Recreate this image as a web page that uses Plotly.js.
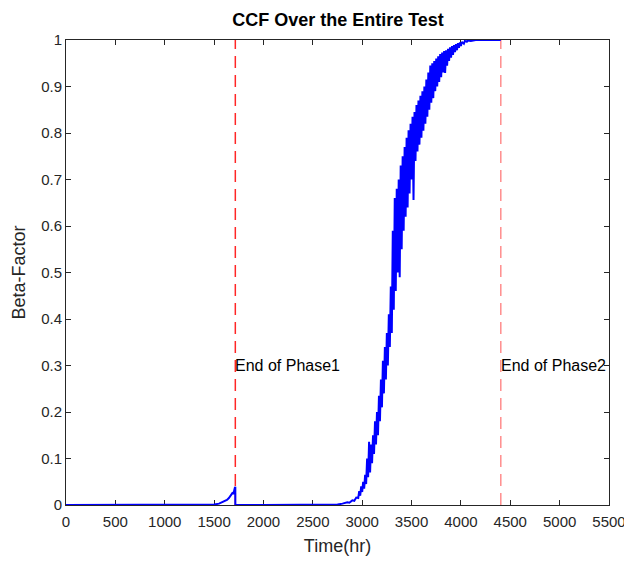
<!DOCTYPE html>
<html>
<head>
<meta charset="utf-8">
<script src="https://cdn.plot.ly/plotly-3.0.1.min.js"></script>
<style>html,body{margin:0;padding:0;background:#fff;}#chart{width:624px;height:561px;}</style>
</head>
<body>
<div id="chart"></div>
<script>
// Beta-factor time series (hours, beta)
const timeHr = [
  0, 500, 1000, 1450, 1500, 1550, 1600, 1630, 1650, 1670, 1680, 1690, 1695, 1700, 1705, 1710, 1715, 1715,
  2000, 2500, 2700, 2750, 2800, 2850, 2870, 2900, 2920, 2940, 2960, 2970, 2980, 2990,
  3000, 3010, 3020, 3030, 3040, 3050, 3060, 3070, 3080, 3090, 3100, 3110, 3120, 3130, 3140, 3150,
  3160, 3170, 3180, 3190, 3200, 3210, 3220, 3230, 3240, 3250, 3260, 3270, 3280, 3290, 3300, 3310,
  3320, 3330, 3340, 3350, 3360, 3370, 3380, 3390, 3400, 3410, 3420, 3430, 3440, 3450, 3460, 3470,
  3480, 3490, 3500, 3510, 3520, 3530, 3540, 3550, 3560, 3570, 3580, 3590, 3600, 3610, 3620, 3630,
  3640, 3650, 3660, 3670, 3680, 3690, 3700, 3710, 3720, 3730, 3740, 3750, 3760, 3770, 3780, 3790,
  3800, 3810, 3820, 3830, 3840, 3850, 3860, 3870, 3880, 3890, 3900, 3910, 3920, 3930, 3940, 3950,
  3960, 3970, 3980, 3990, 4000, 4010, 4030, 4040, 4060, 4070, 4100, 4150, 4404
];
const betaFactor = [
  0, 0, 0, 0, 0.001, 0.003, 0.007, 0.011, 0.015, 0.02, 0.022, 0.027, 0.023, 0.032, 0.028, 0.037, 0.039, 0,
  0, 0, 0, 0.001, 0.003, 0.006, 0.005, 0.01, 0.009, 0.016, 0.015, 0.03, 0.02, 0.04,
  0.028, 0.05, 0.035, 0.065, 0.045, 0.1, 0.06, 0.136, 0.07, 0.13, 0.09, 0.15, 0.11, 0.18, 0.13, 0.2,
  0.15, 0.235, 0.18, 0.27, 0.21, 0.31, 0.24, 0.34, 0.27, 0.37, 0.3, 0.41, 0.34, 0.47, 0.37, 0.59,
  0.42, 0.66, 0.46, 0.68, 0.5, 0.7, 0.49, 0.73, 0.55, 0.75, 0.59, 0.77, 0.62, 0.79, 0.64, 0.806,
  0.67, 0.82, 0.7, 0.835, 0.656, 0.845, 0.74, 0.86, 0.76, 0.87, 0.775, 0.88, 0.79, 0.89, 0.805, 0.9,
  0.82, 0.915, 0.835, 0.93, 0.85, 0.945, 0.865, 0.95, 0.875, 0.955, 0.89, 0.96, 0.9, 0.965, 0.91, 0.97,
  0.92, 0.973, 0.93, 0.976, 0.929, 0.978, 0.945, 0.981, 0.955, 0.984, 0.962, 0.987, 0.968, 0.989, 0.974, 0.991,
  0.978, 0.993, 0.983, 0.995, 0.987, 0.996, 0.992, 0.998, 0.996, 0.999, 0.998, 1, 1
];
const phaseEnds = [1715, 4404];
const phaseLabels = ["End of Phase1", "End of Phase2"];
const phaseColors = ["rgba(255,0,0,0.85)", "rgba(255,0,0,0.45)"];
const xTicks = [0, 500, 1000, 1500, 2000, 2500, 3000, 3500, 4000, 4500, 5000, 5500];
const yTicks = [0, 0.1, 0.2, 0.3, 0.4, 0.5, 0.6, 0.7, 0.8, 0.9, 1];
const labelY = 0.3;

const traces = [];
phaseEnds.forEach((x, i) => {
  traces.push({
    x: [x, x], y: [0, 1], mode: 'lines', type: 'scatter',
    line: {color: phaseColors[i], width: 1.5, dash: '12px,7px'},
    hoverinfo: 'skip', showlegend: false
  });
});
traces.push({
  x: timeHr, y: betaFactor, mode: 'lines', type: 'scatter',
  line: {color: '#0000ff', width: 2}, showlegend: false
});

const fam = 'Liberation Sans, Arial, Helvetica, sans-serif';
const axisCommon = {
  showgrid: false, zeroline: false, showline: true, linecolor: '#262626', linewidth: 1,
  mirror: 'ticks', ticks: 'inside', ticklen: 5, tickcolor: '#262626', tickwidth: 1,
  tickfont: {family: fam, size: 15, color: '#262626'}, layer: 'below traces',
  ticklabeloverflow: 'allow'
};

const layout = {
  width: 624, height: 561,
  margin: {l: 66, r: 15, t: 40, b: 56},
  paper_bgcolor: '#fff', plot_bgcolor: '#fff',
  showlegend: false,
  title: {text: '<b>CCF Over the Entire Test</b>', x: 0.5417, xanchor: 'center', y: 0.964, yanchor: 'middle',
          font: {family: fam, size: 18, color: '#000'}},
  xaxis: Object.assign({}, axisCommon, {
    range: [0, 5500], tickvals: xTicks, ticktext: xTicks.map(String), ticklabelstandoff: 3,
    title: {text: 'Time(hr)', font: {family: fam, size: 18, color: '#262626'}, standoff: 10}
  }),
  yaxis: Object.assign({}, axisCommon, {
    range: [0, 1], tickvals: yTicks, ticktext: yTicks.map(String),
    title: {text: 'Beta-Factor', font: {family: fam, size: 18, color: '#262626'}, standoff: 10}
  }),
  annotations: phaseEnds.map((x, i) => ({
    x: x, y: labelY, xref: 'x', yref: 'y', text: phaseLabels[i], showarrow: false,
    xanchor: 'left', yanchor: 'middle', xshift: -2,
    font: {family: fam, size: 16, color: '#000'}
  }))
};

Plotly.newPlot('chart', traces, layout, {displayModeBar: false, staticPlot: true});
</script>
</body>
</html>
